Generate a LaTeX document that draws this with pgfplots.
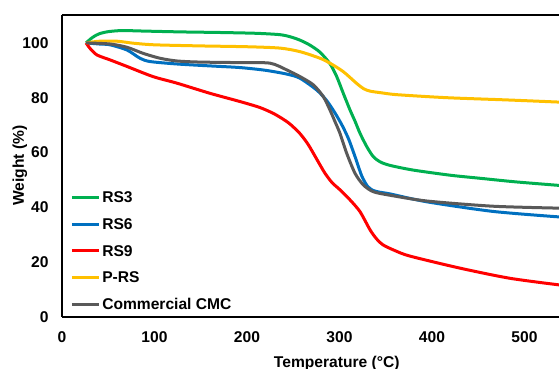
\documentclass[border=0pt]{standalone}
\usepackage{pgfplots}
\pgfplotsset{compat=1.18}
\usepackage{fontspec}
\setmainfont{Liberation Sans}
\usetikzlibrary{calc}
\newcommand\myfont{\fontsize{11.7}{14}\selectfont\bfseries}
\definecolor{cgreen}{HTML}{00B050}
\definecolor{cblue}{HTML}{0070C0}
\definecolor{cred}{HTML}{FF0000}
\definecolor{cyellow}{HTML}{FFC000}
\definecolor{cgray}{HTML}{595959}
\begin{document}
\begin{tikzpicture}
\begin{axis}[name=ax, scale only axis, width=372.75pt, height=226.7pt,
  xmin=0, xmax=537.3, ymin=0, ymax=110.3,
  axis x line*=box, axis y line*=left,
  axis line style={line width=1.5pt, black},
  xtick={0,100,...,500}, ytick={0,20,...,100},
  major tick length=0pt,
  /pgf/number format/assume math mode=true,
  tick label style={font=\myfont},
  xticklabel style={yshift=-7.6pt}, yticklabel style={xshift=-6.6pt},
  xlabel={Temperature (°C)}, ylabel={Weight (\%)},
  label style={font=\myfont},
  every axis x label/.style={at={(axis description cs:0.5528,0)}, anchor=base, yshift=-37.9pt, font=\myfont},
  every axis y label/.style={at={(axis description cs:0,0.5)}, xshift=-31.5pt, rotate=90, anchor=center, font=\myfont},
  legend style={draw=none, fill=none, at={(axis description cs:0,1)}, anchor=north west, xshift=6pt, yshift=-132.6pt, inner sep=0pt, row sep=11.6pt, column sep=1.5pt, font=\myfont, nodes={inner sep=0pt, text height=8.4pt, text depth=0pt}},
  legend cell align=left,
  legend image code/.code={\draw[#1, line width=2.25pt] (0pt,0pt) -- (20.25pt,0pt);},
  every axis plot/.append style={line width=2.25pt, smooth, tension=0.45},
]
\addplot[cgreen] coordinates {(26,100) (33,102) (40,103.3) (50,104.1) (65,104.5) (90,104.3) (130,104) (170,103.8) (210,103.5) (235.7,103) (247,102.2) (257.3,101) (268,99.2) (278.9,96.6) (289.7,92.4) (297,87.7) (304.1,81.6) (311.4,75.5) (316.8,71.4) (322.2,67) (329.4,62.2) (336.5,58.5) (343.8,56.6) (354.6,55.3) (379.5,53.6) (420,51.7) (451.9,50.6) (490,49.3) (537.3,48)};
\addlegendentry{RS3}
\addplot[cblue] coordinates {(26,100) (40,99.6) (51.9,99.3) (70.3,97.4) (84.3,94.4) (95.1,93.2) (124.3,92.3) (160,91.6) (192.4,91) (220,90) (243.2,88.6) (257.3,87.1) (275.4,82.8) (286,79) (295,74.5) (303,69.8) (310,64.8) (317,58.3) (324,51.5) (330,47.8) (336,46.2) (343.8,45.5) (354.6,44.9) (394.6,42) (466,38.5) (537.3,36.5)};
\addlegendentry{RS6}
\addplot[cred] coordinates {(26,100) (30.3,98) (37.8,95.6) (51.9,93.8) (70.3,91.4) (98.4,87.7) (124.3,85.3) (160,81.6) (192.4,78.6) (214.1,76.4) (230,74) (245,70.8) (257,67) (266,63) (275,57.8) (284,52.6) (292,49) (300.5,46.4) (311.4,42.7) (322.2,38.4) (333,31.8) (340,28.5) (347,26.3) (360,24.2) (376.2,22.2) (430.3,17.8) (484.3,14.1) (537.3,11.7)};
\addlegendentry{RS9}
\addplot[cyellow] coordinates {(26,100) (40,100.6) (60,100.6) (76.8,99.9) (100,99.3) (149.2,98.9) (200,98.6) (235.7,98.1) (257.3,96.8) (278.9,94.4) (289.7,92.6) (304.1,89.5) (318.6,85.2) (326,83.3) (333,82.4) (345,81.8) (362.2,81.1) (416.2,80) (480,79.2) (537.3,78.4)};
\addlegendentry{P-RS}
\addplot[cgray] coordinates {(26,100) (51.9,99.6) (70.3,98.4) (87.6,96.2) (105.9,94.4) (124.3,93.4) (149.2,93) (192.4,92.8) (224.9,92.6) (243.2,90.1) (257.3,87.7) (271.7,84.7) (282.5,80.4) (289.7,75.5) (295.1,71.3) (300.5,67) (307.8,59.7) (316.8,52.4) (325.7,48.2) (336.5,45.7) (354.6,44.4) (394.6,42.3) (466,40.4) (537.3,39.7)};
\addlegendentry{Commercial CMC}
\end{axis}
\pgfresetboundingbox
\useasboundingbox ($(ax.south west)+(-46.5pt,-39pt)$) rectangle ($(ax.north east)+(0pt,11pt)$);
\end{tikzpicture}
\end{document}
